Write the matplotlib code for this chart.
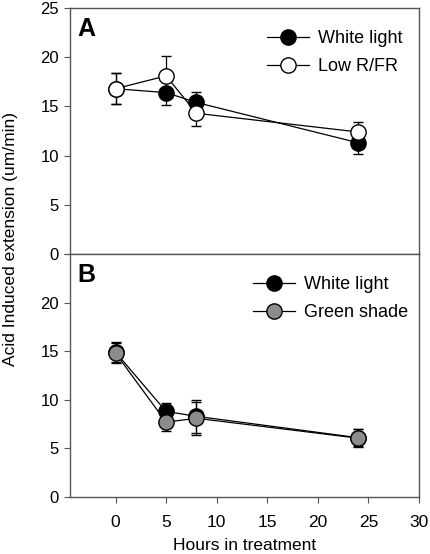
import matplotlib
matplotlib.use("Agg")
import matplotlib.pyplot as plt
from matplotlib.lines import Line2D

plt.rcParams['font.family'] = ['Liberation Sans', 'DejaVu Sans']

hours = [0, 5, 8, 24]

# Panel A
a_white = [16.8, 16.4, 15.4, 11.3]
a_white_err = [1.6, 1.25, 1.1, 1.15]
a_low = [16.8, 18.1, 14.3, 12.4]
a_low_err = [1.6, 2.0, 1.3, 1.0]

# Panel B
b_white = [14.9, 8.8, 8.3, 6.1]
b_white_err = [1.0, 0.9, 1.7, 0.9]
b_green = [14.8, 7.7, 8.1, 6.05]
b_green_err = [1.0, 0.9, 1.7, 0.9]

x_ticks = [0, 5, 10, 15, 20, 25, 30]
y_ticks = [0, 5, 10, 15, 20, 25]

W, H = 431, 554
fig = plt.figure(figsize=(W / 100, H / 100), dpi=100)
L, R = 70 / W, 419 / W
top_a, mid, bot_b = 1 - 8 / H, 1 - 254 / H, 1 - 497 / H
axA = fig.add_axes([L, mid, R - L, top_a - mid])
axB = fig.add_axes([L, bot_b, R - L, mid - bot_b])

spine_col = '#555555'
ms = 11


def draw(ax, series, letter, show_top_tick, leg_anchor):
    handles = []
    for y, err, fc, lab in series:
        ax.errorbar(hours, y, yerr=err, color='black', lw=0.9, elinewidth=0.9,
                    capsize=3.5, capthick=0.9, marker='o', ms=ms, mfc=fc,
                    mec='black', mew=1.0, zorder=3)
        handles.append(Line2D([], [], color='black', lw=0.9, marker='o', ms=ms,
                              mfc=fc, mec='black', mew=1.0, label=lab))
    ax.set_xlim(-4.5, 30)
    ax.set_ylim(0, 25)
    ax.set_yticks(y_ticks)
    labels = [str(t) for t in y_ticks]
    if not show_top_tick:
        labels[-1] = ''
    ax.set_yticklabels(labels)
    for s in ax.spines.values():
        s.set_color(spine_col)
        s.set_linewidth(1.0)
    ax.tick_params(axis='y', direction='out', length=4, width=0.8, color=spine_col,
                   labelsize=12, pad=4)
    ax.text(0.022, 0.965, letter, transform=ax.transAxes, fontsize=18,
            fontweight='bold', va='top', ha='left')
    ax.legend(handles=handles, loc='upper left',
              bbox_to_anchor=(leg_anchor[0] / W, 1 - leg_anchor[1] / H),
              bbox_transform=fig.transFigure, frameon=False,
              fontsize=13, handlelength=2.3, handletextpad=0.55,
              borderaxespad=0, borderpad=0, labelspacing=0.62)


draw(axA, [(a_white, a_white_err, 'black', 'White light'),
           (a_low, a_low_err, 'white', 'Low R/FR')], 'A', True, (267, 30))
draw(axB, [(b_white, b_white_err, 'black', 'White light'),
           (b_green, b_green_err, '#8c8c8c', 'Green shade')], 'B', False, (253, 276))

axA.set_xticks([])
axB.set_xticks(x_ticks)
axB.tick_params(axis='x', direction='out', length=4, width=0.8, color=spine_col,
                labelsize=12.5, pad=9)
axB.set_xlabel('Hours in treatment', fontsize=12.5, labelpad=6)

fig.text(0.025, 1 - 239 / H, 'Acid Induced extension (um/min)', rotation=90,
         fontsize=12.5, va='center', ha='center')

fig.savefig('out.png', dpi=100)
